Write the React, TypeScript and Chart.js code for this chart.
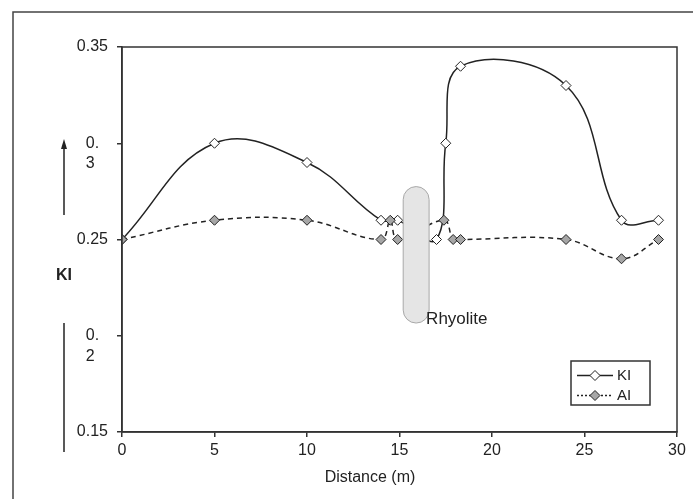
import React, { useEffect, useRef } from "react";
import { Chart, registerables } from "chart.js";

Chart.register(...registerables);

// ---- data ----
const aiDistance = [0, 5, 10, 14, 14.5, 14.9, 17.4, 17.9, 18.3, 24, 27, 29];
const aiValues = [0.25, 0.26, 0.26, 0.25, 0.26, 0.25, 0.26, 0.25, 0.25, 0.25, 0.24, 0.25];
const kiDistance = [0, 5, 10, 14, 14.9, 17, 17.5, 18.3, 24, 27, 29];
const kiValues = [0.25, 0.30, 0.29, 0.26, 0.26, 0.25, 0.30, 0.34, 0.33, 0.26, 0.26];
const yTickLabels: (string | string[])[] = ["0.15", ["", "0.  ", "2   "], "0.25", ["", "0.  ", "3   "], "0.35"];
const xTickLabels = ["0", "5", "10", "15", "20", "25", "30"];
const seriesNames = ["AI", "KI"];
const xTitle = "Distance (m)";
const yTitle = "KI";
const rhyoliteLabel = "Rhyolite";
// rhyolite body extent (distance, value)
const rhyoliteX = [15.2, 16.6];
const rhyoliteY = [0.2066, 0.2775];

const FONT = "'Liberation Sans', Arial, sans-serif";
const INK = "#222";

const decor = {
  id: "decor",
  afterDatasetsDraw(chart: any) {
    const { ctx, scales } = chart;
    const xs = scales.x, ys = scales.y;
    const x0 = xs.getPixelForValue(rhyoliteX[0]);
    const x1 = xs.getPixelForValue(rhyoliteX[1]);
    const yTop = ys.getPixelForValue(rhyoliteY[1]);
    const yBot = ys.getPixelForValue(rhyoliteY[0]);
    ctx.save();
    ctx.beginPath();
    const w = x1 - x0;
    ctx.roundRect(x0, yTop, w, yBot - yTop, w / 2);
    ctx.fillStyle = "#e5e5e5";
    ctx.fill();
    ctx.strokeStyle = "#a8a8a8";
    ctx.lineWidth = 1;
    ctx.stroke();
    ctx.fillStyle = INK;
    ctx.font = `17px ${FONT}`;
    ctx.textAlign = "left";
    ctx.textBaseline = "middle";
    ctx.fillText(rhyoliteLabel, x1 - 3, yBot - 4);
    ctx.restore();
  },
  afterDraw(chart: any) {
    const { ctx, chartArea: ca } = chart;
    ctx.save();
    // outer frame
    ctx.strokeStyle = "#444";
    ctx.lineWidth = 1.5;
    ctx.beginPath();
    ctx.moveTo(13, 499);
    ctx.lineTo(13, 12);
    ctx.lineTo(693, 12);
    ctx.stroke();
    // plot box
    ctx.strokeStyle = "#333";
    ctx.lineWidth = 1.5;
    ctx.strokeRect(ca.left, ca.top, ca.right - ca.left, ca.bottom - ca.top);
    // axis titles
    ctx.fillStyle = INK;
    ctx.textBaseline = "middle";
    ctx.textAlign = "center";
    ctx.font = `16px ${FONT}`;
    ctx.fillText(xTitle, 370, 478);
    ctx.font = `bold 16px ${FONT}`;
    ctx.fillText(yTitle, 64, 276);
    // arrow and bar
    ctx.strokeStyle = INK;
    ctx.lineWidth = 1.5;
    ctx.beginPath();
    ctx.moveTo(64, 215);
    ctx.lineTo(64, 146);
    ctx.stroke();
    ctx.beginPath();
    ctx.moveTo(64, 139);
    ctx.lineTo(61, 149);
    ctx.lineTo(67, 149);
    ctx.closePath();
    ctx.fillStyle = INK;
    ctx.fill();
    ctx.beginPath();
    ctx.moveTo(64, 323);
    ctx.lineTo(64, 452);
    ctx.stroke();
    // legend
    const lx = 571, ly = 361, lw = 79, lh = 44;
    ctx.fillStyle = "#fff";
    ctx.fillRect(lx, ly, lw, lh);
    ctx.strokeStyle = "#333";
    ctx.lineWidth = 1.5;
    ctx.strokeRect(lx, ly, lw, lh);
    const entries = [
      { name: seriesNames[1], y: 375.5, dash: [], fill: "#ffffff" },
      { name: seriesNames[0], y: 395.5, dash: [2, 2], fill: "#a6a6a6" },
    ];
    for (const e of entries) {
      ctx.beginPath();
      ctx.setLineDash(e.dash);
      ctx.lineWidth = 1.3;
      ctx.strokeStyle = INK;
      ctx.moveTo(577, e.y);
      ctx.lineTo(613, e.y);
      ctx.stroke();
      ctx.setLineDash([]);
      ctx.beginPath();
      ctx.moveTo(595, e.y - 5);
      ctx.lineTo(600, e.y);
      ctx.lineTo(595, e.y + 5);
      ctx.lineTo(590, e.y);
      ctx.closePath();
      ctx.fillStyle = e.fill;
      ctx.fill();
      ctx.lineWidth = 1;
      ctx.stroke();
      ctx.fillStyle = INK;
      ctx.font = `15px ${FONT}`;
      ctx.textAlign = "left";
      ctx.fillText(e.name, 617, e.y);
    }
    ctx.restore();
  },
};

export default function App() {
  const ref = useRef<HTMLCanvasElement | null>(null);
  useEffect(() => {
    if (!ref.current) return;
    const chart = new Chart(ref.current, {
      type: "line",
      data: {
        datasets: [
          {
            label: seriesNames[0],
            data: aiDistance.map((d, i) => ({ x: d, y: aiValues[i] })),
            borderColor: INK,
            borderWidth: 1.5,
            borderDash: [5, 4],
            tension: 0.4,
            pointStyle: "rectRot",
            pointRadius: 5,
            pointBackgroundColor: "#a6a6a6",
            pointBorderColor: INK,
            pointBorderWidth: 1,
            fill: false,
          },
          {
            label: seriesNames[1],
            data: kiDistance.map((d, i) => ({ x: d, y: kiValues[i] })),
            borderColor: INK,
            borderWidth: 1.5,
            tension: 0.4,
            pointStyle: "rectRot",
            pointRadius: 5,
            pointBackgroundColor: "#ffffff",
            pointBorderColor: INK,
            pointBorderWidth: 1,
            fill: false,
          },
        ],
      },
      options: {
        responsive: false,
        animation: false,
        events: [],
        layout: { padding: { left: 0, top: 47, right: 16, bottom: 0 } },
        plugins: { legend: { display: false }, tooltip: { enabled: false } },
        scales: {
          x: {
            type: "linear",
            min: 0,
            max: 30,
            afterFit: (s: any) => { s.height = 67; },
            ticks: {
              stepSize: 5,
              padding: 4,
              color: INK,
              font: { family: FONT, size: 16 },
              callback: (_v: any, i: number) => xTickLabels[i],
            },
            grid: { display: true, drawOnChartArea: false, drawTicks: true, tickLength: 5, color: "#333", lineWidth: 1.5 },
            border: { display: true, color: "#333", width: 1.5 },
          },
          y: {
            type: "linear",
            min: 0.15,
            max: 0.35,
            afterFit: (s: any) => { s.width = 122; },
            ticks: {
              stepSize: 0.05,
              padding: 9,
              color: INK,
              font: { family: FONT, size: 16, lineHeight: 1.3 },
              callback: (_v: any, i: number) => yTickLabels[i],
            },
            grid: { display: true, drawOnChartArea: false, drawTicks: true, tickLength: 5, color: "#333", lineWidth: 1.5 },
            border: { display: true, color: "#333", width: 1.5 },
          },
        },
      },
      plugins: [decor],
    });
    return () => chart.destroy();
  }, []);
  return (
    <div style={{ position: "fixed", left: 0, top: 0, width: 693, height: 499, background: "#fff" }}>
      <canvas ref={ref} width={693} height={499} />
    </div>
  );
}
